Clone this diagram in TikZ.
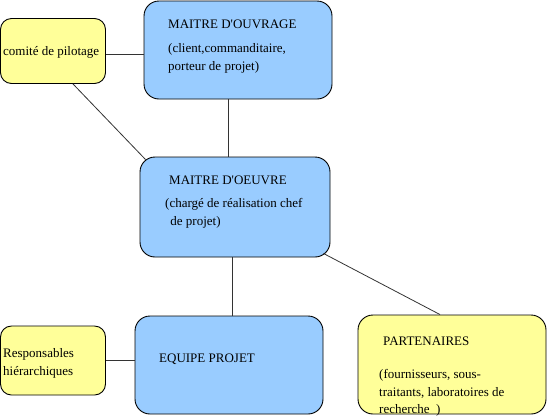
\documentclass[tikz,border=0pt]{standalone}
\usepackage{fontspec}
\setmainfont{Liberation Serif}
\definecolor{boxblue}{HTML}{99CCFF}
\definecolor{boxyellow}{HTML}{FFFF99}
\definecolor{linegray}{HTML}{333333}
\begin{document}
\begin{tikzpicture}[x=1bp,y=-1bp,
  bluebox/.style={draw=black, line width=0.9bp, fill=boxblue, rounded corners=15bp, inner sep=0pt},
  yellowbox/.style={draw=black, line width=0.9bp, fill=boxyellow, rounded corners=11bp, inner sep=0pt},
  txt/.style={inner sep=0pt, anchor=base west, font=\fontsize{13bp}{15bp}\selectfont},
  conn/.style={draw=linegray, line width=0.8bp}]
\useasboundingbox (0,0) rectangle (548,418);
% boxes
\node[yellowbox, minimum width=105bp, minimum height=65bp] (comite) at (53,51) {};
\node[bluebox, minimum width=188bp, minimum height=98bp] (mo) at (238,50) {};
\node[bluebox, minimum width=190bp, minimum height=100bp] (moe) at (235,207) {};
\node[bluebox, minimum width=188bp, minimum height=98bp] (equipe) at (229,365) {};
\node[yellowbox, minimum width=105bp, minimum height=69bp] (resp) at (53,360.5) {};
\node[bluebox, fill=boxyellow, minimum width=188bp, minimum height=99bp] (part) at (452,364.5) {};
% connectors
\draw[conn] ([yshift=-3bp]comite.east) -- ([yshift=-3bp]comite.east -| mo.west);
\draw[conn] ([xshift=20bp]comite.south) -- ([shift={(6bp,-3bp)}]moe.north west);
\draw[conn] ([xshift=-10bp]mo.south) -- ([xshift=-10bp]mo.south |- moe.north);
\draw[conn] ([xshift=-3bp]moe.south) -- ([xshift=-3bp]moe.south |- equipe.north);
\draw[conn] (resp.east) -- (resp.east -| equipe.west);
\draw[conn] ([shift={(-7bp,4bp)}]moe.south east) -- ([xshift=-12bp]part.north);
% texts
\node[txt] (t1) at (3,55) {comité de pilotage};
\node[txt] (t2) at (168,28) {MAITRE D\textquotesingle OUVRAGE};
\node[txt] (t3) at (168,52) {(client,commanditaire,};
\node[txt] (t4) at (168,70) {porteur de projet)};
\node[txt] (t5) at (169,184) {MAITRE D\textquotesingle OEUVRE};
\node[txt] (t6) at (165,207) {(chargé de réalisation chef};
\node[txt] (t7) at (167,225) {\ de projet)};
\node[txt] (t8) at (3,357) {Responsables};
\node[txt] (t9) at (3,375) {hiérarchiques};
\node[txt] (t10) at (159,362) {EQUIPE PROJET};
\node[txt] (t11) at (383,345) {PARTENAIRES};
\node[txt] (t12) at (379,378) {(fournisseurs, sous-};
\node[txt] (t13) at (379,396) {traitants, laboratoires de};
\node[txt] (t14) at (379,413) {recherche \ )};
\end{tikzpicture}
\end{document}
